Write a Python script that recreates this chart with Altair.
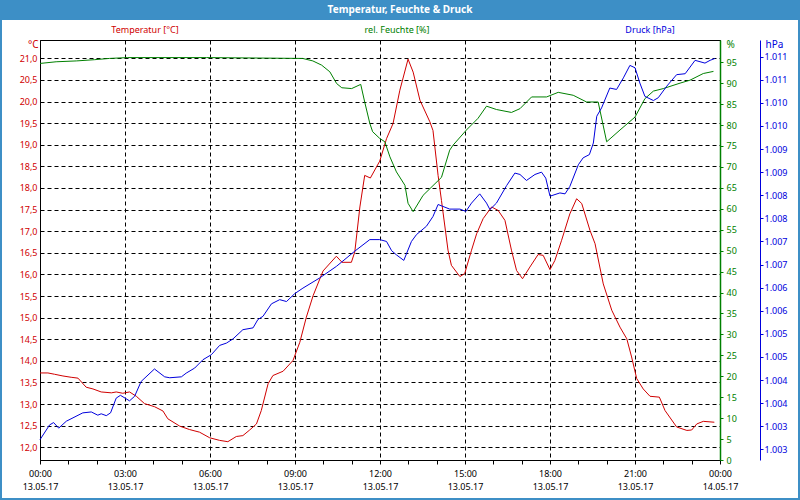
import altair as alt
import pandas as pd

# ---------------- data (hours since 13.05.17 00:00) ----------------
temp_h = [0.0, 0.28, 0.51, 0.81, 1.10, 1.34, 1.63, 1.87, 2.16, 2.52, 2.69, 2.92, 3.16, 3.40, 3.69,
          4.04, 4.34, 4.51, 4.93, 5.28, 5.63, 5.99, 6.34, 6.63, 6.93, 7.16, 7.40, 7.64, 7.81, 8.05,
          8.22, 8.58, 8.93, 9.17, 9.40, 9.64, 9.99, 10.46, 10.66, 10.99, 11.11, 11.29, 11.46, 11.66,
          11.99, 12.23, 12.46, 12.70, 12.99, 13.17, 13.41, 13.76, 13.87, 14.05, 14.17, 14.40, 14.52,
          14.82, 14.99, 15.23, 15.41, 15.64, 15.94, 16.17, 16.41, 16.64, 16.82, 17.03, 17.29, 17.58,
          17.76, 18.00, 18.17, 18.41, 18.70, 18.94, 19.12, 19.41, 19.59, 19.88, 20.18, 20.47, 20.71,
          20.88, 21.06, 21.29, 21.53, 21.86, 22.06, 22.47, 22.83, 23.00, 23.18, 23.41, 23.80]
temp_v = [13.72, 13.72, 13.69, 13.65, 13.62, 13.60, 13.39, 13.35, 13.28, 13.26, 13.28, 13.25, 13.28,
          13.18, 13.01, 12.94, 12.84, 12.66, 12.49, 12.41, 12.35, 12.22, 12.16, 12.13, 12.25, 12.27,
          12.40, 12.54, 12.85, 13.47, 13.66, 13.76, 14.01, 14.43, 15.01, 15.51, 16.08, 16.42, 16.28,
          16.28, 16.52, 17.56, 18.29, 18.23, 18.62, 19.14, 19.49, 20.26, 20.98, 20.68, 20.03, 19.53,
          19.33, 18.29, 17.71, 16.56, 16.21, 15.95, 16.02, 16.56, 16.94, 17.29, 17.56, 17.48, 17.25,
          16.56, 16.09, 15.90, 16.17, 16.46, 16.44, 16.11, 16.32, 16.79, 17.40, 17.75, 17.64, 17.02,
          16.71, 15.78, 15.17, 14.78, 14.51, 14.09, 13.59, 13.35, 13.18, 13.16, 12.85, 12.47, 12.39,
          12.40, 12.54, 12.60, 12.58]

hum_h = [0.0, 0.57, 1.28, 1.93, 2.45, 3.09, 5.88, 9.27, 9.63, 9.94, 10.23, 10.47, 10.65, 11.00, 11.32,
         11.46, 11.64, 11.74, 11.99, 12.17, 12.35, 12.58, 12.88, 12.99, 13.17, 13.52, 14.17, 14.46,
         14.58, 15.05, 15.46, 15.76, 16.11, 16.64, 16.94, 17.35, 17.88, 18.29, 18.82, 19.29, 19.70,
         20.00, 20.47, 21.00, 21.35, 21.65, 22.00, 22.59, 22.94, 23.41, 23.77]
hum_v = [94.7, 95.1, 95.3, 95.6, 95.9, 96.1, 96.1, 95.9, 95.3, 94.3, 92.7, 89.9, 88.9, 88.7, 89.7,
         85.5, 80.4, 78.4, 76.8, 76.0, 72.4, 68.8, 65.6, 61.3, 59.3, 63.2, 67.5, 74.0, 75.2, 78.8,
         81.6, 84.5, 83.7, 83.0, 83.9, 86.7, 86.7, 87.8, 87.1, 85.5, 85.5, 76.0, 78.8, 81.9, 86.3,
         88.1, 88.7, 90.0, 90.7, 92.3, 92.8]

pres_h = [0.0, 0.34, 0.48, 0.66, 0.93, 1.51, 1.81, 2.04, 2.16, 2.34, 2.49, 2.69, 2.84, 3.16, 3.34,
          3.57, 4.04, 4.40, 4.58, 4.99, 5.16, 5.46, 5.75, 6.05, 6.34, 6.58, 6.81, 7.16, 7.52, 7.69,
          7.87, 8.17, 8.46, 8.70, 8.99, 9.28, 9.87, 10.46, 11.11, 11.64, 11.99, 12.23, 12.41, 12.58,
          12.84, 13.11, 13.29, 13.64, 13.87, 14.05, 14.46, 14.82, 15.03, 15.23, 15.52, 15.76, 15.88,
          16.11, 16.47, 16.76, 16.94, 17.17, 17.47, 17.70, 17.85, 18.00, 18.35, 18.53, 18.70, 19.00,
          19.17, 19.39, 19.53, 19.65, 19.82, 20.11, 20.35, 20.59, 20.82, 21.00, 21.17, 21.35, 21.65,
          21.82, 22.12, 22.47, 22.77, 23.12, 23.47, 23.65, 23.82]
pres_v = [1002.71, 1003.03, 1003.08, 1002.96, 1003.11, 1003.29, 1003.31, 1003.24, 1003.27, 1003.23,
          1003.29, 1003.61, 1003.67, 1003.55, 1003.65, 1003.97, 1004.24, 1004.07, 1004.05, 1004.07,
          1004.15, 1004.26, 1004.44, 1004.55, 1004.75, 1004.80, 1004.89, 1005.09, 1005.13, 1005.31,
          1005.38, 1005.65, 1005.74, 1005.70, 1005.87, 1005.99, 1006.21, 1006.46, 1006.79, 1007.04,
          1007.04, 1007.00, 1006.80, 1006.71, 1006.59, 1007.00, 1007.15, 1007.33, 1007.54, 1007.80,
          1007.70, 1007.70, 1007.65, 1007.83, 1008.03, 1007.83, 1007.69, 1007.83, 1008.21, 1008.48,
          1008.45, 1008.32, 1008.45, 1008.50, 1008.37, 1007.98, 1008.05, 1008.03, 1008.19, 1008.66,
          1008.81, 1008.88, 1009.13, 1009.71, 1009.89, 1010.32, 1010.29, 1010.54, 1010.81, 1010.76,
          1010.43, 1010.14, 1010.05, 1010.11, 1010.36, 1010.61, 1010.63, 1010.92, 1010.86, 1010.92,
          1010.96]

temp_ticks = [12.0 + 0.5 * i for i in range(19)]
hum_ticks = list(range(0, 100, 5))
pres_ticks = [1002.5 + 0.5 * i for i in range(18)]
hour_ticks = list(range(0, 25))

title_text = "Temperatur, Feuchte & Druck"
series_labels = ["Temperatur [°C]", "rel. Feuchte [%]", "Druck [hPa]"]

RED = "#d00000"
GREEN = "#008000"
BLUE = "#0000dd"
BAR = "#3d8fc6"
FONT = "Noto Sans"

temp_df = pd.DataFrame({"h": temp_h, "v": temp_v})
hum_df = pd.DataFrame({"h": hum_h, "v": hum_v})
pres_df = pd.DataFrame({"h": pres_h, "v": pres_v})

xscale = alt.Scale(domain=[0, 24], nice=False, zero=False)

x_axis = alt.Axis(
    values=hour_ticks, title=None, grid=True, gridColor="black", gridDash=[4, 3], gridWidth=1,
    gridOpacity={"condition": {"test": "datum.value % 3 === 0", "value": 1}, "value": 0},
    labelExpr="datum.value % 3 === 0 ? [((datum.value % 24) < 10 ? '0' : '') + (datum.value % 24) + ':00', datum.value < 24 ? '13.05.17' : '14.05.17'] : ''",
    labelFont=FONT, labelFontSize=9, labelColor="black", labelLineHeight=13,
    labelOverlap=False, labelFlush=False, labelPadding=5,
    tickColor="black", tickSize=4, domainColor="black",
)

temp_line = alt.Chart(temp_df).mark_line(color=RED, strokeWidth=1).encode(
    x=alt.X("h:Q", scale=xscale, axis=x_axis),
    y=alt.Y("v:Q", scale=alt.Scale(domain=[11.706, 21.423], nice=False, zero=False),
            axis=alt.Axis(values=temp_ticks, grid=True, gridColor="black", gridDash=[4, 3],
                          labelExpr="replace(format(datum.value, '.1f'), '.', ',')",
                          labelFont=FONT, labelFontSize=9, labelColor=RED, labelPadding=3,
                          labelOverlap=False, ticks=False, domainColor="black",
                          title="°C", titleAngle=0, titleX=-2, titleY=4, titleAlign="right",
                          titleBaseline="middle", titleColor=RED, titleFont=FONT,
                          titleFontSize=10, titleFontWeight="normal")),
)

hum_line = alt.Chart(hum_df).mark_line(color=GREEN, strokeWidth=1).encode(
    x=alt.X("h:Q", scale=xscale, axis=x_axis),
    y=alt.Y("v:Q", scale=alt.Scale(domain=[0, 100.3], nice=False, zero=False),
            axis=alt.Axis(orient="right", values=hum_ticks, grid=False, format="d",
                          labelFont=FONT, labelFontSize=9, labelColor=GREEN, labelPadding=3,
                          labelOverlap=False, tickColor=GREEN, tickSize=3, domainColor=GREEN,
                          domainWidth=1.5,
                          title="%", titleAngle=0, titleX=6, titleY=4, titleAlign="left",
                          titleBaseline="middle", titleColor=GREEN, titleFont=FONT,
                          titleFontSize=10, titleFontWeight="normal")),
)

pres_line = alt.Chart(pres_df).mark_line(color=BLUE, strokeWidth=1).encode(
    x=alt.X("h:Q", scale=xscale, axis=x_axis),
    y=alt.Y("v:Q", scale=alt.Scale(domain=[1002.27, 1011.36], nice=False, zero=False),
            axis=alt.Axis(orient="right", offset=40, values=pres_ticks, grid=False,
                          labelExpr="replace(format(datum.value, ',.0f'), ',', '.')",
                          labelFont=FONT, labelFontSize=9, labelColor=BLUE, labelPadding=1,
                          labelOverlap=False, tickColor=BLUE, tickSize=3, domainColor=BLUE,
                          title="hPa", titleAngle=0, titleX=5, titleY=4, titleAlign="left",
                          titleBaseline="middle", titleColor=BLUE, titleFont=FONT,
                          titleFontSize=10, titleFontWeight="normal")),
)

one = alt.Data(values=[{"k": 1}])

bar = alt.Chart(one).mark_rect(color=BAR).encode(
    x=alt.value(-40), x2=alt.value(760), y=alt.value(-40), y2=alt.value(-20))
border = alt.Chart(one).mark_rect(filled=False, stroke=BAR, strokeWidth=2).encode(
    x=alt.value(-39), x2=alt.value(759), y=alt.value(-30), y2=alt.value(459))
title_mark = alt.Chart(one).mark_text(
    text=title_text, color="white", font=FONT, fontSize=10, fontWeight="bold",
    align="center", baseline="middle").encode(x=alt.value(360), y=alt.value(-30))
lab_t = alt.Chart(one).mark_text(text=series_labels[0], color=RED, font=FONT, fontSize=9,
                                 align="center", baseline="middle").encode(x=alt.value(105), y=alt.value(-10))
lab_h = alt.Chart(one).mark_text(text=series_labels[1], color=GREEN, font=FONT, fontSize=9,
                                 align="center", baseline="middle").encode(x=alt.value(357), y=alt.value(-10))
lab_p = alt.Chart(one).mark_text(text=series_labels[2], color=BLUE, font=FONT, fontSize=9,
                                 align="center", baseline="middle").encode(x=alt.value(610), y=alt.value(-10))

chart = alt.layer(
    temp_line, hum_line, pres_line, bar, border, title_mark, lab_t, lab_h, lab_p
).resolve_scale(y="independent").properties(
    width=680, height=420,
    autosize=alt.AutoSizeParams(type="none"),
    padding={"left": 40, "top": 40, "right": 80, "bottom": 40},
    background="white",
).configure_view(stroke="black", strokeWidth=1)

chart.save("out.html", embed_options={"renderer": "svg", "actions": False})
